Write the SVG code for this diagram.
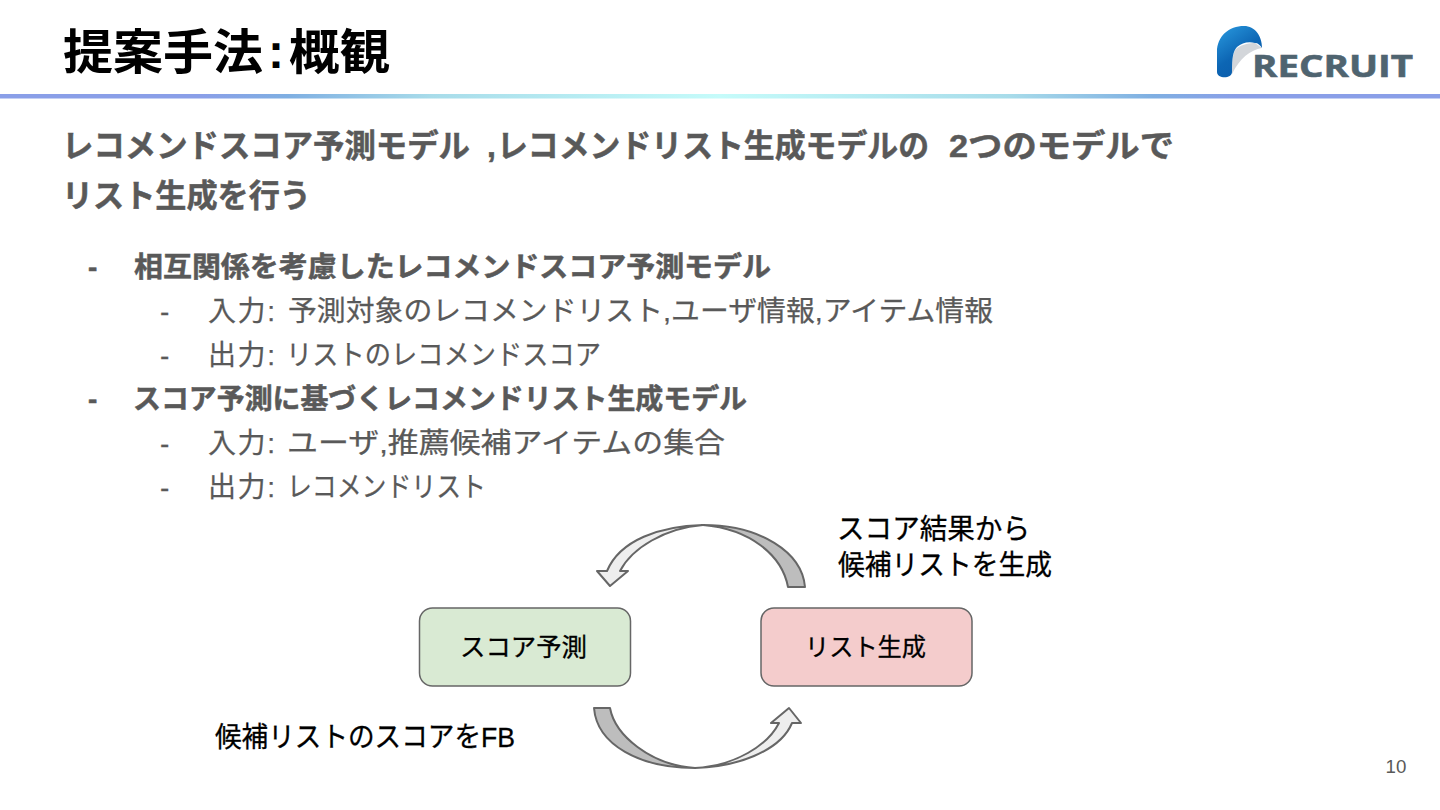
<svg xmlns="http://www.w3.org/2000/svg" width="1440" height="810" viewBox="0 0 1440 810">
<style>
text{font-family:"Liberation Sans","Noto Sans CJK JP",sans-serif}
.t{font-size:48px;font-weight:bold;fill:#000}
.h{font-weight:bold;fill:#595959;font-size:32px;stroke:#595959;stroke-width:.5}
.b{font-weight:bold;fill:#595959;font-size:28px;stroke:#595959;stroke-width:.5}
.s{fill:#595959;font-size:28px;stroke:#595959;stroke-width:.25}
.l{fill:#000;font-size:28px;stroke:#000;stroke-width:.3}
.n{fill:#000;font-size:24.500px;stroke:#000;stroke-width:.3}
.node{stroke:#666;stroke-width:1.5}
.arrow{stroke:#666;stroke-width:2;stroke-linejoin:round}
</style>
<defs>
<linearGradient id="bar"><stop offset="0" stop-color="#8a9fe8"/><stop offset=".14" stop-color="#8a9fe8"/><stop offset=".2" stop-color="#7fafe2"/><stop offset=".3" stop-color="#a8dcea"/><stop offset=".5" stop-color="#c5fbfa"/><stop offset=".7" stop-color="#a8dcea"/><stop offset=".8" stop-color="#7fafe2"/><stop offset=".86" stop-color="#8a9fe8"/><stop offset="1" stop-color="#8a9fe8"/></linearGradient>
<linearGradient id="logo" x1="0" y1="0" x2=".6" y2="1"><stop offset="0" stop-color="#2a9be0"/><stop offset=".6" stop-color="#0d66b4"/><stop offset="1" stop-color="#0a5cab"/></linearGradient>
</defs>
<rect width="1440" height="810" fill="#fff"/>
<rect x="0" y="94" width="1440" height="4.500" fill="url(#bar)"/>
<text class="t" x="63" y="69" textLength="200" lengthAdjust="spacingAndGlyphs">提案手法</text>
<text class="t" x="268" y="68" font-size="40">:</text>
<text class="t" x="289" y="69" textLength="101" lengthAdjust="spacingAndGlyphs">概観</text>
<g id="logo-mark">
<path d="M1232 72 C1232 58 1233 52 1237 48 C1243 44 1250 43 1255 43 L1262 48 C1250 50 1240 58 1232 74Z" fill="#d3d6da"/>
<path d="M1217 72 V52 C1217 36 1229 26 1244 26 C1255 26 1262 36 1262 48 C1260 45 1258 43 1255 43 C1248 41 1242 43 1237 47 C1233 51 1232 58 1232 72 C1232 79 1217 79 1217 72Z" fill="url(#logo)"/>
<text x="1252" y="77" font-size="31" font-weight="bold" fill="#4f6470" stroke="#4f6470" stroke-width=".6" textLength="161" lengthAdjust="spacingAndGlyphs" style="font-family:'Open Sans','Liberation Sans',sans-serif">RECRUIT</text>
</g>
<text class="h" x="62" y="157" textLength="408" lengthAdjust="spacingAndGlyphs">レコメンドスコア予測モデル</text>
<text class="h" x="487" y="157">,</text>
<text class="h" x="497" y="157" textLength="432" lengthAdjust="spacingAndGlyphs">レコメンドリスト生成モデルの</text>
<text class="h" x="949" y="157" textLength="225" lengthAdjust="spacingAndGlyphs">2つのモデルで</text>
<text class="h" x="62" y="207" textLength="249" lengthAdjust="spacingAndGlyphs">リスト生成を行う</text>
<text class="b" x="88" y="277">-</text>
<text class="b" x="134" y="277" textLength="637" lengthAdjust="spacingAndGlyphs">相互関係を考慮したレコメンドスコア予測モデル</text>
<text class="s" x="160" y="321">-</text>
<text class="s" x="208" y="321" textLength="67">入力:</text>
<text class="s" x="288" y="321" textLength="705" lengthAdjust="spacingAndGlyphs">予測対象のレコメンドリスト,ユーザ情報,アイテム情報</text>
<text class="s" x="160" y="365">-</text>
<text class="s" x="208" y="365" textLength="67">出力:</text>
<text class="s" x="286" y="365" textLength="315" lengthAdjust="spacingAndGlyphs">リストのレコメンドスコア</text>
<text class="b" x="88" y="409">-</text>
<text class="b" x="133" y="409" textLength="614" lengthAdjust="spacingAndGlyphs">スコア予測に基づくレコメンドリスト生成モデル</text>
<text class="s" x="160" y="453">-</text>
<text class="s" x="208" y="453" textLength="67">入力:</text>
<text class="s" x="287" y="453" textLength="438" lengthAdjust="spacingAndGlyphs">ユーザ,推薦候補アイテムの集合</text>
<text class="s" x="160" y="497">-</text>
<text class="s" x="208" y="497" textLength="67">出力:</text>
<text class="s" x="287" y="497" textLength="199" lengthAdjust="spacingAndGlyphs">レコメンドリスト</text>
<g id="connectors">
<path class="arrow" id="arrow-top" d="M703 525 C660 526 620 540 607 571 L597 571 L610 586 L628 571 L620 571 C632 548 665 528 703 525Z" fill="#eee"/>
<path class="arrow" d="M805 587 H788 C782 555 750 529 703 525 C760 525 802 552 805 587Z" fill="#bdbdbd"/>
<path class="arrow" id="arrow-bottom" d="M695 768 C735 767 780 752 792 723 L801 723 L789 708 L771 723 L779 723 C768 745 735 766 695 768Z" fill="#eee"/>
<path class="arrow" d="M594 708 H610 C615 735 650 765 695 768 C640 768 597 745 594 708Z" fill="#bdbdbd"/>
</g>
<g id="node-score"><rect class="node" x="419.500" y="608" width="211" height="78" rx="13" fill="#d9ead3"/><text class="n" x="460" y="656" textLength="127" lengthAdjust="spacingAndGlyphs">スコア予測</text></g>
<g id="node-list"><rect class="node" x="761" y="608" width="211" height="78" rx="13" fill="#f4cccc"/><text class="n" x="805" y="656" textLength="121" lengthAdjust="spacingAndGlyphs">リスト生成</text></g>
<g id="label-top"><text class="l" x="837" y="539" textLength="193" lengthAdjust="spacingAndGlyphs">スコア結果から</text><text class="l" x="838" y="575" textLength="214" lengthAdjust="spacingAndGlyphs">候補リストを生成</text></g>
<g id="label-bottom"><text class="l" x="215" y="747" textLength="300" lengthAdjust="spacingAndGlyphs">候補リストのスコアをFB</text></g>
<text x="1385.500" y="773" font-size="18.700" fill="#595959">10</text>
</svg>
